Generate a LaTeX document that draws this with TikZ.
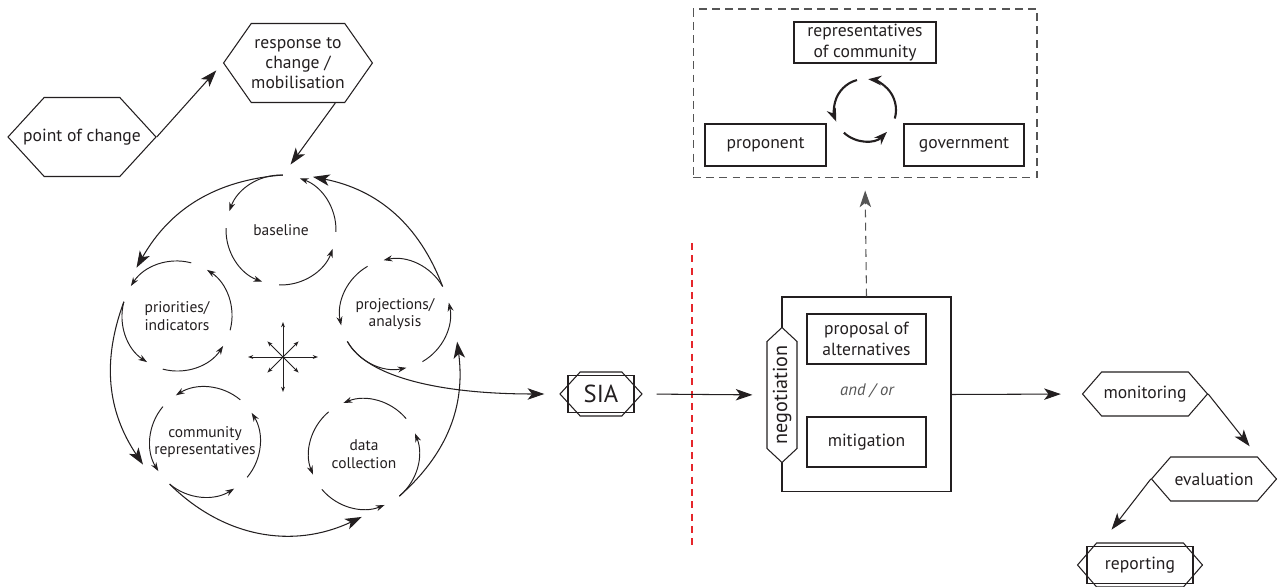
\documentclass[tikz,border=0pt]{standalone}
\usepackage{fontspec}
\setmainfont{PT Sans}
\usetikzlibrary{arrows.meta,shapes.symbols,calc}
\definecolor{ink}{HTML}{231F20}
\definecolor{dashink}{HTML}{555555}
\definecolor{cutred}{HTML}{E5262B}

\begin{document}
\begin{tikzpicture}[x=0.02cm,y=0.02cm,
  >={Stealth[length=9.5pt,width=6.5pt,inset=2.5pt]}, line width=0.6pt, color=ink,
  font=\fontsize{10}{11.5}\selectfont,
  hexa/.style={shape=signal, signal to=west and east, draw, fill=white,
    align=center, inner sep=0pt, line width=0.6pt},
  frame/.style={draw, align=center, inner sep=0pt},
  stage/.style={align=center, font=\fontsize{8.8}{10}\selectfont},
  whirl/.style={-{Stealth[length=5pt,width=3.4pt]}, line width=0.55pt},
  spoke/.style={-{Stealth[length=3pt,width=2.2pt]}, line width=0.5pt},
  swirl/.style={-{Stealth[length=7.5pt,width=5.5pt]}, line width=1.2pt},
  greydash/.style={draw=dashink, dash pattern=on 4.5pt off 3pt}]
\useasboundingbox (0,0) rectangle (1285,587);

\node[hexa, signal pointer angle=95, inner xsep=-0.42cm, minimum width=2.94cm, minimum height=1.58cm] (change) at (82,450) {point of change};
\node[hexa, signal pointer angle=110, minimum width=2.94cm, minimum height=1.58cm] (response) at (298,524) {response to\\change /\\mobilisation};

\node[stage] (baseline) at (281,357) {baseline};
\node[stage] (priorities) at (177,271) {priorities/\\indicators};
\node[stage] (community) at (205,145) {community\\representatives};
\node[stage] (data) at (364,133) {data\\collection};
\node[stage] (projections) at (395,273) {projections/\\analysis};
\coordinate (hub) at (283,230);
\coordinate (entry) at ($(baseline)+(88:55)$);
\coordinate (handoff) at ($(projections)+(210:55)$);

\foreach \cyc/\first in {baseline/88,priorities/75,community/50,data/40,projections/30}
  \foreach \k in {0,90,180,270}
    \draw[whirl] ($(\cyc)+(\first+\k:55)$) arc[start angle=\first+\k, delta angle=72, radius=55];

\draw[->] (entry) to[bend right=28] ($(priorities)+(130:63)$);
\draw[->] ($(priorities)+(165:55)$) to[bend right=27] ($(community)+(200:66)$);
\draw[->] ($(community)+(230:55)$) to[bend right=35] ($(data)+(268:63)$);
\draw[->] ($(data)+(310:55)$) to[bend right=28] ($(projections)+(336:68)$);
\draw[->] ($(projections)+(30:55)$) to[bend right=29] ($(baseline)+(59:62)$);

\foreach \a in {0,90,180,270} \draw[spoke] (hub) -- +(\a:35);
\foreach \a in {45,135,225,315} \draw[spoke] (hub) -- +(\a:22);

\draw[->, shorten >=0.2cm] (change.east) -- (response.west);
\draw[->, shorten >=0.26cm] (response.-47) -- (entry);

\node[hexa, signal pointer angle=95, minimum width=1.64cm, minimum height=0.88cm, font=\fontsize{14}{14}\selectfont] (sia) at (601,193) {SIA};
\node[frame, minimum width=1.32cm, minimum height=0.74cm] (siaframe) at (sia) {};
\draw[->] (handoff) .. controls (367,210) and (440,193) .. ([xshift=-0.3cm]sia.west);

\draw[cutred, dash pattern=on 4pt off 3pt] (692,344) -- (692,42);

\node[frame, minimum width=3.38cm, minimum height=3.9cm] (talks) at (866.5,192.5) {};
\node[hexa, rotate=90, signal pointer angle=94, minimum width=2.7cm, minimum height=0.6cm, font=\fontsize{11.5}{11.5}\selectfont] (negotiation) at (782,192) {negotiation};
\node[frame, minimum width=2.38cm, minimum height=1cm] (proposal) at (866.5,248) {proposal of\\alternatives};
\node[frame, minimum width=2.38cm, minimum height=1cm] (mitigation) at (866.5,145) {mitigation};
\node[text=dashink, font=\fontsize{9.5}{11}\itshape] (andor) at (867,196) {and / or};
\draw[->, shorten <=0.28cm, shorten >=0.28cm] (sia.east) -- (negotiation.north);

\node[frame, greydash, minimum width=6.88cm, minimum height=3.38cm] (actors) at (865,493.5) {};
\node[frame, minimum width=2.84cm, minimum height=0.82cm] (residents) at (865,544.5) {representatives\\of community};
\node[frame, minimum width=2.42cm, minimum height=0.84cm] (proponent) at (765.5,442) {proponent};
\node[frame, minimum width=2.4cm, minimum height=0.84cm] (government) at (964,442) {government};
\coordinate (mediate) at (865,477);
\foreach \a/\b in {105/202,227/315,344/444}
  \draw[swirl] ($(mediate)+(\a:31)$) arc[start angle=\a, end angle=\b, radius=31];
\draw[->, greydash, shorten >=0.24cm] (talks.north) -- (actors.south);

\node[hexa, signal pointer angle=98, minimum width=2.5cm, minimum height=0.88cm] (monitoring) at (1145,193) {monitoring};
\node[hexa, signal pointer angle=98, minimum width=2.5cm, minimum height=0.88cm] (evaluation) at (1214,108) {evaluation};
\node[hexa, signal pointer angle=98, minimum width=2.5cm, minimum height=0.88cm] (reporting) at (1140,22) {reporting};
\node[frame, minimum width=2.12cm, minimum height=0.74cm] (reportframe) at (reporting) {};

\draw[->, shorten >=0.42cm] (talks.east) -- (monitoring.west);
\draw[->, shorten >=0.3cm] (monitoring.east) -- (evaluation.25);
\draw[->, shorten >=0.33cm] (evaluation.west) -- (reporting.150);
\end{tikzpicture}
\end{document}
